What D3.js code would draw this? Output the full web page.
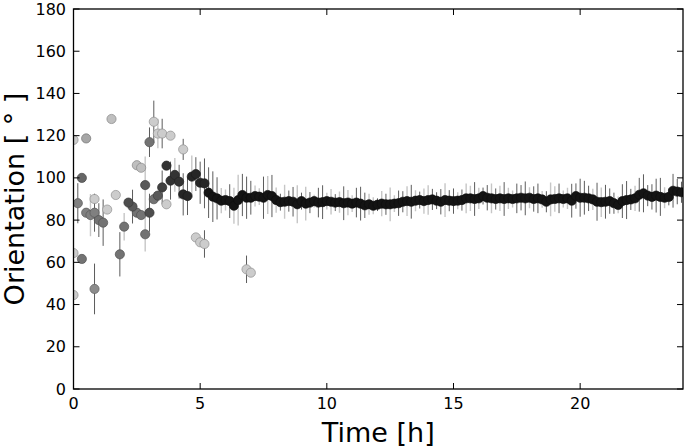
<!DOCTYPE html>
<html>
<head>
<meta charset="utf-8">
<script src="https://cdn.jsdelivr.net/npm/d3@7"></script>
<style>
  body { margin: 0; background: #fff; }
  text { font-family: "DejaVu Sans", sans-serif; }
</style>
</head>
<body>
<div id="chart"></div>
<script>
// early, scattered tracks: time [h], orientation [deg], error, grey level (null = bar only), bar tone
var earlyT = [0, 0, 0, 0.17, 0.33, 0.33, 0.5, 0.5, 0.67, 0.83, 0.83, 0.83, 1.0, 1.17, 1.33, 1.5, 1.67, 1.83, 2.0,
  2.17, 2.33, 2.5, 2.67, 2.5, 2.67, 2.83, 2.83, 2.83, 3.0, 3.0, 3.17, 3.17, 3.33, 3.5, 3.33, 3.5, 3.67, 3.83,
  3.67, 3.83, 4.0, 4.17, 4.33, 4.5, 4.33, 4.67, 4.83, 5.0, 5.17, 4.83, 5.0, 5.17, 6.83, 7.0];
var earlyV = [118, 64.4, 44.5, 88, 100, 61.6, 118.7, 83.5, 82.4, 90, 83.5, 47.4, 80, 78.8, 85, 127.9, 91.9, 63.8, 76.9,
  88.3, 86.4, 83.5, 82.4, 106, 104.8, 87.6, 96.6, 73.3, 83.5, 116.9, 126.6, 89.9, 121, 121, 91.6, 95.5, 87.5, 120,
  105.8, 98.7, 101.4, 98.2, 92.2, 91.4, 113.5, 100.6, 101.8, 97.7, 97.4, 71.8, 69.5, 68.7, 56.7, 55.1];
var earlyE = [0, 0, 0, 9.5, 0, 0, 0, 0, 10, 0, 9, 12, 8, 11, 0, 0, 0, 10.5, 6.5,
  0, 8, 0, 0, 0, 0, 22.5, 0, 0, 9, 7, 10, 0, 7, 7, 0, 8, 0, 0,
  0, 9, 8, 8, 10, 9, 5, 10, 8, 10, 11.8, 0, 0, 6.5, 6.5, 0];
var earlyG = [0.8, 0.8, 0.8, 0.5, 0.4, 0.45, 0.65, 0.5, 0.5, 0.8, 0.5, 0.55, 0.45, 0.45, 0.8, 0.75, 0.8, 0.45, 0.45,
  0.3, 0.35, 0.45, 0.45, 0.75, 0.75, null, 0.35, 0.45, 0.3, 0.45, 0.8, 0.45, 0.8, 0.8, 0.35, 0.25, 0.8, 0.8,
  0.2, 0.2, 0.2, 0.2, 0.15, 0.15, 0.8, 0.15, 0.15, 0.15, 0.15, 0.8, 0.8, 0.8, 0.8, 0.8];
var earlyBar = "llldllldlddddddlddl" + "dddlllllddddlldddll" + "ldlddddlddddddddd";

// main track, one value every 10 min from 5h20 to 24h
var mainStart = 32 / 6, mainStep = 1 / 6;
var mainV = [93.0, 91.1, 90.3, 89.2, 89.5, 89.0, 86.8, 89.5, 91.9, 90.6, 90.6, 91.4, 91.1, 90.6, 91.9, 91.4,
  89.5, 88.5, 88.7, 89.0, 88.7, 87.5, 89.0, 87.8, 88.3, 89.0, 88.3, 88.5, 89.0, 88.7, 88.3, 88.5,
  88.0, 88.3, 87.8, 88.3, 87.8, 87.0, 87.5, 86.8, 87.3, 87.8, 87.5, 87.5, 87.8, 88.0, 88.7, 89.0,
  88.7, 89.2, 89.5, 89.0, 89.5, 89.8, 89.2, 88.7, 89.5, 89.2, 89.0, 89.2, 89.5, 90.3, 90.3, 90.0,
  90.3, 91.4, 90.6, 90.3, 90.0, 90.3, 90.0, 90.3, 90.0, 90.3, 90.6, 90.3, 90.6, 90.0, 90.3, 89.8,
  88.7, 89.8, 90.0, 90.3, 90.0, 90.3, 89.2, 91.4, 90.6, 90.6, 90.3, 89.8, 88.7, 88.5, 88.7, 89.0,
  88.0, 87.2, 89.0, 89.5, 89.8, 90.3, 92.0, 92.7, 91.6, 91.0, 91.6, 91.0, 90.6, 91.0, 93.9, 93.5, 93.2];
var mainE = [12, 12, 10, 6, 5, 8, 8.5, 12, 10, 10, 8, 5, 4, 10, 9, 10,
  6, 4, 8, 5, 7, 9, 4, 8, 5, 3, 7, 8, 4, 6, 4, 5,
  8, 6, 4, 7, 8, 6, 5, 4, 3, 6, 5, 8, 4, 6, 5, 7,
  8, 5, 4, 6, 7, 5, 4, 6, 8, 5, 6, 4, 5, 7, 6, 8,
  5, 4, 6, 7, 5, 6, 8, 5, 4, 7, 6, 8, 5, 6, 7, 4,
  5, 8, 6, 7, 4, 5, 8, 6, 9, 8, 6, 5, 9, 7, 8, 6,
  5, 4, 8, 9, 5, 6, 8, 9, 5, 6, 8, 9, 5, 4, 8, 6, 5];
var mainBar = "dddlldlldddlldld" + "ldlddldldlddlldl" + "dlldddlldldllddl" + "dldlldddlddldlld" +
  "lddldldlldddlddl" + "dlldlldddddldldd" + "dldddlddddddlddddd";

var xTicks = [0, 5, 10, 15, 20];
var yTicks = [0, 20, 40, 60, 80, 100, 120, 140, 160, 180];

var width = 685, height = 446;
var margin = { left: 73.5, right: 683, top: 9, bottom: 389 };

var x = d3.scaleLinear().domain([0, 24.06]).range([margin.left, margin.right]);
var y = d3.scaleLinear().domain([0, 180]).range([margin.bottom, margin.top]);

var svg = d3.select("#chart").append("svg")
    .attr("width", width)
    .attr("height", height);

svg.append("clipPath").attr("id", "plot")
  .append("rect")
    .attr("x", margin.left).attr("y", margin.top)
    .attr("width", margin.right - margin.left)
    .attr("height", margin.bottom - margin.top);

// build one list of marks
var early = earlyT.map(function(t, i) {
  return { t: t, v: earlyV[i], e: earlyE[i], g: earlyG[i], bar: earlyBar[i] || "d" };
});
var main = mainV.map(function(v, i) {
  return { t: mainStart + i * mainStep, v: v, e: mainE[i] || 0, g: 0.08, bar: mainBar[i] || "d" };
});
var all = early.concat(main);

var grey = function(g) { var c = Math.round(255 * g); return d3.rgb(c, c, c); };

var plot = svg.append("g").attr("clip-path", "url(#plot)");

// error bars
plot.selectAll(".err")
    .data(all.filter(function(d) { return d.e > 0; }))
    .enter().append("line")
    .attr("class", "err")
    .attr("x1", function(d) { return x(d.t); })
    .attr("x2", function(d) { return x(d.t); })
    .attr("y1", function(d) { return y(d.v - d.e); })
    .attr("y2", function(d) { return y(d.v + d.e); })
    .attr("stroke", function(d) { return d.bar == "l" ? "#c6c6c6" : "#5c5c5c"; })
    .attr("stroke-width", function(d) { return d.bar == "l" ? 1.4 : 1; });

// points, light first so the dark track sits on top
var pts = all.filter(function(d) { return d.g != null; })
    .sort(function(a, b) { return b.g - a.g; });

plot.selectAll(".pt")
    .data(pts)
    .enter().append("circle")
    .attr("class", "pt")
    .attr("cx", function(d) { return x(d.t); })
    .attr("cy", function(d) { return y(d.v); })
    .attr("r", 4.6)
    .attr("fill", function(d) { return grey(d.g); })
    .attr("stroke", function(d) { return grey(d.g * 0.7); })
    .attr("stroke-width", 0.7);

// ticks on all four sides, pointing inwards
var tl = 6;
var ax = svg.append("g").attr("stroke", "#000").attr("stroke-width", 1);
xTicks.forEach(function(t) {
  ax.append("line").attr("x1", x(t)).attr("x2", x(t)).attr("y1", margin.bottom).attr("y2", margin.bottom - tl);
  ax.append("line").attr("x1", x(t)).attr("x2", x(t)).attr("y1", margin.top).attr("y2", margin.top + tl);
});
yTicks.forEach(function(v) {
  ax.append("line").attr("x1", margin.left).attr("x2", margin.left + tl).attr("y1", y(v)).attr("y2", y(v));
  ax.append("line").attr("x1", margin.right).attr("x2", margin.right - tl).attr("y1", y(v)).attr("y2", y(v));
});

svg.append("rect")
    .attr("x", margin.left).attr("y", margin.top)
    .attr("width", margin.right - margin.left)
    .attr("height", margin.bottom - margin.top)
    .attr("fill", "none")
    .attr("stroke", "#000")
    .attr("stroke-width", 1.3);

// tick labels
svg.selectAll(".xl")
    .data(xTicks)
    .enter().append("text")
    .attr("x", function(d) { return x(d); })
    .attr("y", 409)
    .attr("text-anchor", "middle")
    .attr("font-size", 16)
    .text(function(d) { return d; });

svg.selectAll(".yl")
    .data(yTicks)
    .enter().append("text")
    .attr("x", 66)
    .attr("y", function(d) { return y(d) + 5.5; })
    .attr("text-anchor", "end")
    .attr("font-size", 16)
    .text(function(d) { return d; });

// axis titles
svg.append("text")
    .attr("x", (margin.left + margin.right) / 2)
    .attr("y", 441.5)
    .attr("text-anchor", "middle")
    .attr("font-size", 27)
    .text("Time [h]");

svg.append("text")
    .attr("transform", "translate(23.5," + (margin.top + margin.bottom) / 2 + ") rotate(-90)")
    .attr("text-anchor", "middle")
    .attr("font-size", 27)
    .text("Orientation [ ° ]");
</script>
</body>
</html>
